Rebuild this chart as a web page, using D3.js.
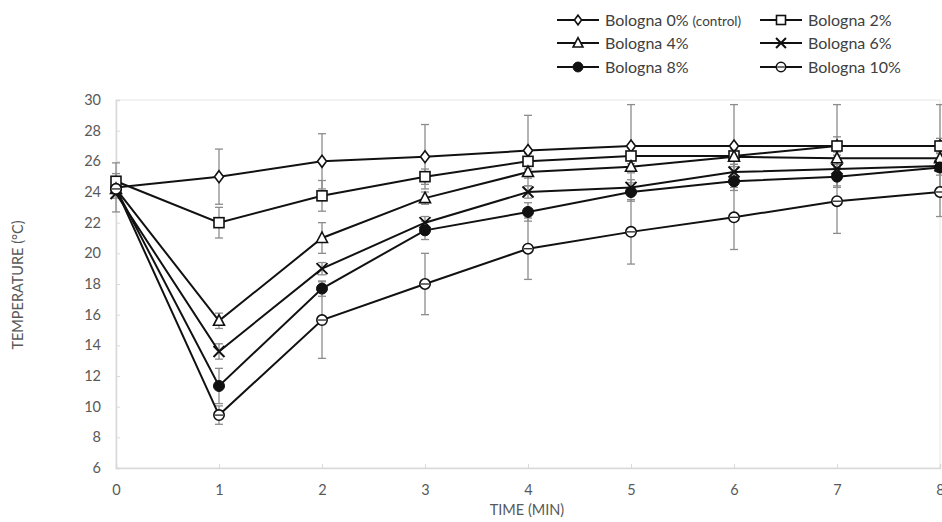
<!DOCTYPE html>
<html><head><meta charset="utf-8">
<script src="https://cdn.jsdelivr.net/npm/d3@7"></script>
<style>body{margin:0;background:#fff}svg{display:block}text{font-family:Lato,"Open Sans",sans-serif}</style>
</head><body><svg id="c" width="942" height="522"></svg>
<script>
const times = [0,1,2,3,4,5,6,7,8];
const xTicks = [0,1,2,3,4,5,6,7,8];
const yTicks = [6,8,10,12,14,16,18,20,22,24,26,28,30];
const seriesNames = ["Bologna 0% (control)","Bologna 2%","Bologna 4%","Bologna 6%","Bologna 8%","Bologna 10%"];
const markers = ["diamond","square","triangle","cross","filled","circle"];
const v0  = [24.3,25.0,26.0,26.3,26.7,27.0,27.0,27.0,27.0];
const v2  = [24.7,22.0,23.75,25.0,26.0,26.35,26.35,27.0,27.0];
const v4  = [24.2,15.6,21.0,23.6,25.3,25.65,26.3,26.2,26.2];
const v6  = [23.9,13.6,19.0,22.0,24.0,24.3,25.3,25.5,25.7];
const v8  = [24.2,11.35,17.7,21.5,22.7,24.0,24.7,25.0,25.6];
const v10 = [24.2,9.45,15.65,18.0,20.3,21.4,22.35,23.4,24.0];
const e0  = [1.6,1.8,1.8,2.1,2.3,2.7,2.7,2.7,2.7];
const e2  = [0.5,1.0,1.0,0.5,0.5,0.5,0.7,0.6,0.5];
const e4  = [0.3,0.5,1.0,0.4,0.4,0.4,0.5,0.4,0.4];
const e6  = [0.3,0.5,0.4,0.4,0.4,0.5,0.5,0.5,0.4];
const e8  = [0.3,1.15,0.5,0.6,0.6,0.6,0.6,0.6,0.5];
const e10 = [0.3,0.6,2.5,2.0,2.0,2.1,2.1,2.1,1.6];

const values = [v0,v2,v4,v6,v8,v10];
const errors = [e0,e2,e4,e6,e8,e10];

const svg = d3.select("#c");
const x = d3.scaleLinear().domain([0,8]).range([116,940]);
const y = d3.scaleLinear().domain([6,30]).range([468,100]);
const grey = "#d9d9d9", txt = "#595959";

svg.append("rect").attr("x",116).attr("y",100).attr("width",824).attr("height",368)
  .attr("fill","none").attr("stroke","#e8e8e8").attr("stroke-width",1);

const gx = svg.append("g").attr("transform","translate(0,468)")
  .call(d3.axisBottom(x).tickValues(xTicks).tickSize(-4).tickPadding(17).tickFormat(d3.format("d")));
const gy = svg.append("g").attr("transform","translate(116,0)")
  .call(d3.axisLeft(y).tickValues(yTicks).tickSize(-4).tickPadding(15).tickFormat(d3.format("d")));
[gx,gy].forEach(g=>{
  g.select(".domain").attr("stroke",grey).attr("stroke-width",1.5);
  g.selectAll(".tick line").attr("stroke",grey);
  g.selectAll(".tick text").attr("fill",txt).attr("font-size",14.5);
});

svg.append("text").attr("x",527).attr("y",515).attr("text-anchor","middle")
  .attr("fill",txt).attr("font-size",14.5).text("TIME (MIN)");
svg.append("text").attr("transform","translate(23,285) rotate(-90)").attr("text-anchor","middle")
  .attr("fill",txt).attr("font-size",14.5).text("TEMPERATURE (°C)");

const eg = svg.append("g");
values.forEach((vals,si)=>{
  vals.forEach((v,i)=>{
    const e = errors[si][i], cx = x(times[i]);
    const y1 = y(v+e), y2 = y(v-e);
    eg.append("line").attr("x1",cx).attr("x2",cx).attr("y1",y1).attr("y2",y2).attr("stroke","#8c8c8c").attr("stroke-width",1.3);
    [y1,y2].forEach(yy=>eg.append("line").attr("x1",cx-4).attr("x2",cx+4).attr("y1",yy).attr("y2",yy).attr("stroke","#8c8c8c").attr("stroke-width",1.3));
  });
});

const line = d3.line().x((d,i)=>x(times[i])).y(d=>y(d));
values.forEach(vals=>{
  svg.append("path").datum(vals).attr("d",line).attr("fill","none").attr("stroke","#111").attr("stroke-width",2);
});

function drawMarker(g, type, cx, cy, s){
  const sw = 1.6;
  if(type==="diamond"){
    g.append("path").attr("d",`M${cx},${cy-s*0.6}L${cx+s*0.45},${cy}L${cx},${cy+s*0.6}L${cx-s*0.45},${cy}Z`)
      .attr("fill","#fff").attr("stroke","#111").attr("stroke-width",sw);
  } else if(type==="square"){
    g.append("rect").attr("x",cx-s/2).attr("y",cy-s/2).attr("width",s).attr("height",s)
      .attr("fill","#fff").attr("stroke","#111").attr("stroke-width",sw);
  } else if(type==="triangle"){
    g.append("path").attr("d",`M${cx},${cy-s*0.6}L${cx+s*0.55},${cy+s*0.45}L${cx-s*0.55},${cy+s*0.45}Z`)
      .attr("fill","#fff").attr("stroke","#111").attr("stroke-width",sw);
  } else if(type==="cross"){
    const h = s*0.55;
    g.append("path").attr("d",`M${cx-h},${cy-h}L${cx+h},${cy+h}M${cx-h},${cy+h}L${cx+h},${cy-h}`)
      .attr("stroke","#111").attr("stroke-width",2);
  } else if(type==="filled"){
    g.append("circle").attr("cx",cx).attr("cy",cy).attr("r",s*0.55).attr("fill","#111").attr("stroke","#111");
  } else if(type==="circle"){
    g.append("circle").attr("cx",cx).attr("cy",cy).attr("r",s*0.52)
      .attr("fill","#fff").attr("stroke","#111").attr("stroke-width",sw);
    g.append("line").attr("x1",cx-s*0.4).attr("x2",cx+s*0.4).attr("y1",cy).attr("y2",cy).attr("stroke","#111").attr("stroke-width",1.2);
  }
}

const mg = svg.append("g");
values.forEach((vals,si)=>{
  vals.forEach((v,i)=>drawMarker(mg, markers[si], x(times[i]), y(v), 10));
});

const lg = svg.append("g");
const legPos = [[557,20],[760,20],[557,43],[760,43],[557,67],[760,67]];
seriesNames.forEach((name,si)=>{
  const [lx,ly] = legPos[si];
  lg.append("line").attr("x1",lx).attr("x2",lx+42).attr("y1",ly).attr("y2",ly).attr("stroke","#111").attr("stroke-width",2);
  drawMarker(lg, markers[si], lx+21, ly, si===0?8:9);
  const t = lg.append("text").attr("x",lx+48).attr("y",ly+5.5).attr("fill","#404040").attr("font-size",16);
  if(si===0){
    t.append("tspan").text("Bologna 0% ");
    t.append("tspan").attr("font-size",13.5).text("(control)");
  } else t.text(name);
});
</script></body></html>
